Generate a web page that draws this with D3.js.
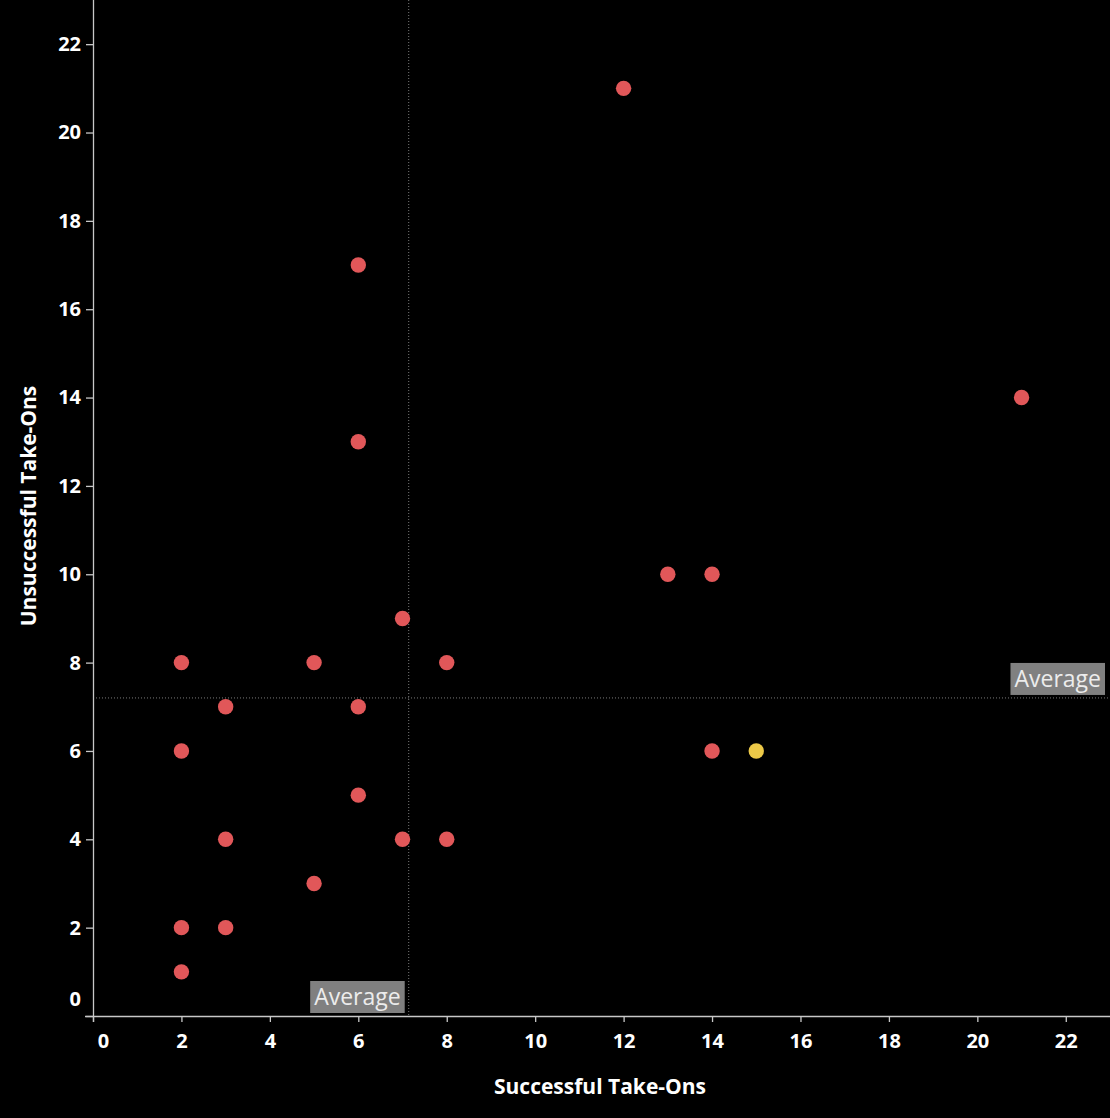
<!DOCTYPE html>
<html>
<head>
<meta charset="utf-8">
<style>
  body { margin: 0; background: #000; }
  svg { display: block; }
  .tick text { font-family: "Open Sans", sans-serif; font-weight: 700; font-size: 20px; fill: #fff; }
  .axis-title { font-family: "Open Sans", sans-serif; font-weight: 700; font-size: 21px; fill: #fff; }
  .avg-label { font-family: "Open Sans", sans-serif; font-size: 23px; fill: #ececec; }
</style>
<title>Take-Ons</title>
</head>
<body>
<script src="https://cdn.jsdelivr.net/npm/d3@7"></script>
<script>

// successful / unsuccessful take-ons per player
var successful   = [12, 6, 21, 6, 13, 14, 7, 2, 5, 8, 3, 6, 2, 14, 15, 6, 3, 7, 8, 5, 2, 3, 2];
var unsuccessful = [21, 17, 14, 13, 10, 10, 9, 8, 8, 8, 7, 7, 6, 6, 6, 5, 4, 4, 4, 3, 2, 2, 1];
var highlighted  = [false, false, false, false, false, false, false, false, false, false, false, false,
                    false, false, true, false, false, false, false, false, false, false, false];
var xTicks = [0, 2, 4, 6, 8, 10, 12, 14, 16, 18, 20, 22];
var yTicks = [0, 2, 4, 6, 8, 10, 12, 14, 16, 18, 20, 22];
var avgSuccessful = 7.14;
var avgUnsuccessful = 7.2;

var W = 1110, H = 1118;
var margin = {top: 0, right: 0, bottom: 102, left: 93};

var x = d3.scaleLinear().domain([0, 23]).range([margin.left, W - margin.right]);
var y = d3.scaleLinear().domain([0, 23]).range([H - margin.bottom, margin.top]);

var svg = d3.select('body').append('svg')
    .attr('width', W)
    .attr('height', H);

svg.append('rect').attr('width', W).attr('height', H).attr('fill', '#000');

// average reference lines
svg.append('line')
    .attr('x1', x(avgSuccessful)).attr('x2', x(avgSuccessful))
    .attr('y1', y(23)).attr('y2', y(0))
    .attr('stroke', '#7a7a7a').attr('stroke-dasharray', '1,2');
svg.append('line')
    .attr('x1', x(0)).attr('x2', x(23))
    .attr('y1', y(avgUnsuccessful)).attr('y2', y(avgUnsuccessful))
    .attr('stroke', '#7a7a7a').attr('stroke-dasharray', '1,2');

// axes
var xAxis = d3.axisBottom(x).tickValues(xTicks).tickSize(6).tickPadding(12);
var gx = svg.append('g')
    .attr('transform', `translate(0,${y(0)})`)
    .call(xAxis);
gx.select('.domain').attr('d', `M${x(0) - 8},0.5H${W}`);

var yAxis = d3.axisLeft(y).tickValues(yTicks).tickSize(7).tickPadding(5);
var gy = svg.append('g')
    .attr('transform', `translate(${x(0)},0)`)
    .call(yAxis);
gy.select('.domain').attr('d', `M0.5,0V${y(0) + 6}`);

svg.selectAll('.domain, .tick line').attr('stroke', '#c8c8c8').attr('stroke-width', 1.3);

// first labels nudged in like the original
gx.selectAll('.tick').filter(d => d === 0).select('text').attr('dx', 10);
gy.selectAll('.tick').filter(d => d === 0).select('text').attr('dy', '-0.52em');

// axis titles
svg.append('text')
    .attr('class', 'axis-title')
    .attr('x', 600).attr('y', 1094)
    .attr('text-anchor', 'middle')
    .text('Successful Take-Ons');
svg.append('text')
    .attr('class', 'axis-title')
    .attr('transform', `translate(36,506) rotate(-90)`)
    .attr('text-anchor', 'middle')
    .text('Unsuccessful Take-Ons');

// average labels
function avgLabel(rx, by) {
  var g = svg.append('g');
  var t = g.append('text').attr('class', 'avg-label').text('Average');
  var bb = t.node().getBBox();
  var w = bb.width + 8, h = 32;
  g.insert('rect', 'text')
      .attr('x', rx - w).attr('y', by - h)
      .attr('width', w).attr('height', h)
      .attr('fill', '#808080');
  t.attr('x', rx - w / 2).attr('y', by - 8).attr('text-anchor', 'middle');
}
avgLabel(x(avgSuccessful) - 4, y(0) - 3);
avgLabel(W - 5, y(avgUnsuccessful) - 3);

// points
svg.append('g').selectAll('circle')
  .data(successful.map((s, i) => ({s: s, u: unsuccessful[i], hi: highlighted[i]})))
  .join('circle')
    .attr('cx', d => x(d.s))
    .attr('cy', d => y(d.u))
    .attr('r', 7.7)
    .attr('fill', d => d.hi ? '#edc948' : '#e15759');

</script>
</body>
</html>
